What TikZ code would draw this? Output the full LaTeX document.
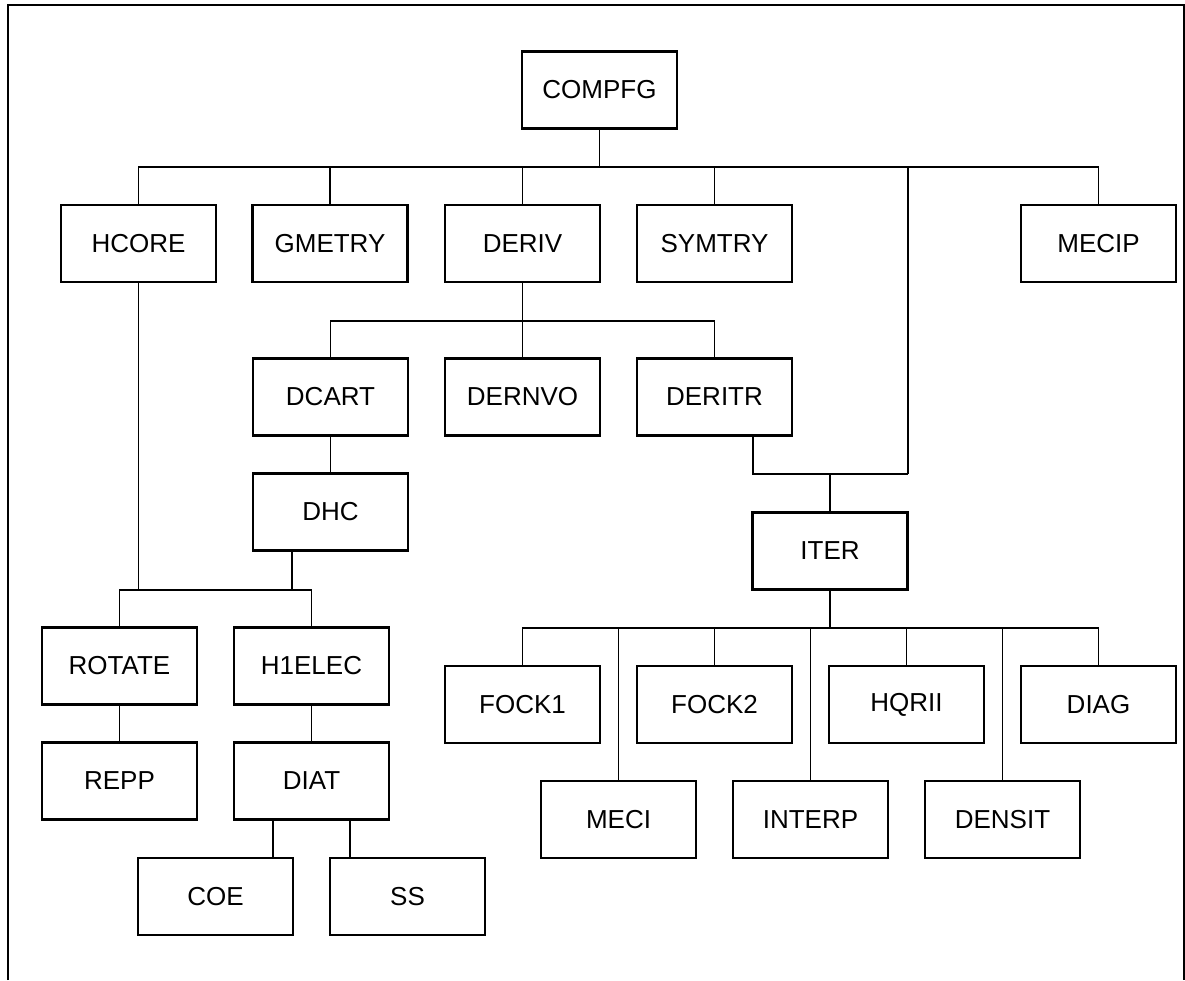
\documentclass[tikz,border=0pt]{standalone}
\usepackage{fontspec}
\setmainfont{Liberation Sans}
\begin{document}
\begin{tikzpicture}[x=1pt,y=-1pt,
  routine/.style={draw, line width=2.4pt, minimum width=155pt, minimum height=77pt,
    inner sep=0pt, font=\fontsize{26}{30}\selectfont},
  link/.style={line width=1.6pt},
  heavylink/.style={line width=2.6pt}]
\useasboundingbox (0,0) rectangle (1185,980);
% outer frame
\draw[line width=2pt] (7.5,980) -- (7.5,5) -- (1183.5,5) -- (1183.5,980);

% routines
\node[routine] (COMPFG) at (599.5,90) {COMPFG};
\node[routine] (HCORE)  at (138.5,243.5) {HCORE};
\node[routine] (GMETRY) at (330,243.5) {GMETRY};
\node[routine] (DERIV)  at (522.5,243.5) {DERIV};
\node[routine] (SYMTRY) at (714.5,243.5) {SYMTRY};
\node[routine] (MECIP)  at (1098.5,243.5) {MECIP};
\node[routine] (DCART)  at (330.5,397) {DCART};
\node[routine] (DERNVO) at (522.5,397) {DERNVO};
\node[routine] (DERITR) at (714.5,397) {DERITR};
\node[routine] (DHC)    at (330.5,512) {DHC};
\node[routine] (ITER)   at (830,551) {ITER};
\node[routine] (ROTATE) at (119.5,666) {ROTATE};
\node[routine] (H1ELEC) at (311.5,666) {H1ELEC};
\node[routine] (REPP)   at (119.5,781) {REPP};
\node[routine] (DIAT)   at (311.5,781) {DIAT};
\node[routine] (COE)    at (215.5,896.5) {COE};
\node[routine] (SS)     at (407.5,896.5) {SS};
\node[routine] (FOCK1)  at (522.5,704.5) {FOCK1};
\node[routine] (FOCK2)  at (714.5,704.5) {FOCK2};
\node[routine] (HQRII)  at (906.5,704.5) {HQRII};
\node[routine] (DIAG)   at (1098.5,704.5) {DIAG};
\node[routine] (MECI)   at (618.5,819.5) {MECI};
\node[routine] (INTERP) at (810.5,819.5) {INTERP};
\node[routine] (DENSIT) at (1002.5,819.5) {DENSIT};

% junction points
\coordinate (b1) at (599.5,167);
\coordinate (b2) at (522.5,321);
\coordinate (j1) at (908,167);
\coordinate (j2) at (908,474);
\coordinate (j3) at (753,474);
\coordinate (b3) at (138.5,590);
\coordinate (d1) at (292,590);
\coordinate (b4) at (830,628);

% COMPFG level
\draw[link] (COMPFG.south) -- (b1);
\draw[link] (HCORE.north) |- (b1) -| (MECIP.north);
\draw[link] (GMETRY.north) -- (GMETRY.north |- b1);
\draw[link] (DERIV.north) -- (DERIV.north |- b1);
\draw[link] (SYMTRY.north) -- (SYMTRY.north |- b1);
\draw[link] (j1) -- (j2);
\draw[heavylink] (j2) -- (j3) -- (j3 |- DERITR.south);
\draw[link] (ITER.north) -- (ITER.north |- j2);

% DERIV level
\draw[link] (DERIV.south) -- (b2);
\draw[link] (DCART.north) |- (b2) -| (DERITR.north);
\draw[link] (DERNVO.north) -- (b2);
\draw[link] (DCART.south) -- (DHC.north);

% HCORE / DHC level
\draw[link] (HCORE.south) -- (b3);
\draw[link] (ROTATE.north) |- (b3) -| (H1ELEC.north);
\draw[heavylink] (d1 |- DHC.south) -- (d1);
\draw[link] (ROTATE.south) -- (REPP.north);
\draw[link] (H1ELEC.south) -- (DIAT.north);
\draw[link] (DIAT.south -| 273,0) -- (COE.north -| 273,0);
\draw[link] (DIAT.south -| 350,0) -- (SS.north -| 350,0);

% ITER level
\draw[link] (ITER.south) -- (b4);
\draw[link] (FOCK1.north) |- (b4) -| (DIAG.north);
\draw[link] (MECI.north) -- (MECI.north |- b4);
\draw[link] (FOCK2.north) -- (FOCK2.north |- b4);
\draw[link] (INTERP.north) -- (INTERP.north |- b4);
\draw[link] (HQRII.north) -- (HQRII.north |- b4);
\draw[link] (DENSIT.north) -- (DENSIT.north |- b4);
\end{tikzpicture}
\end{document}
